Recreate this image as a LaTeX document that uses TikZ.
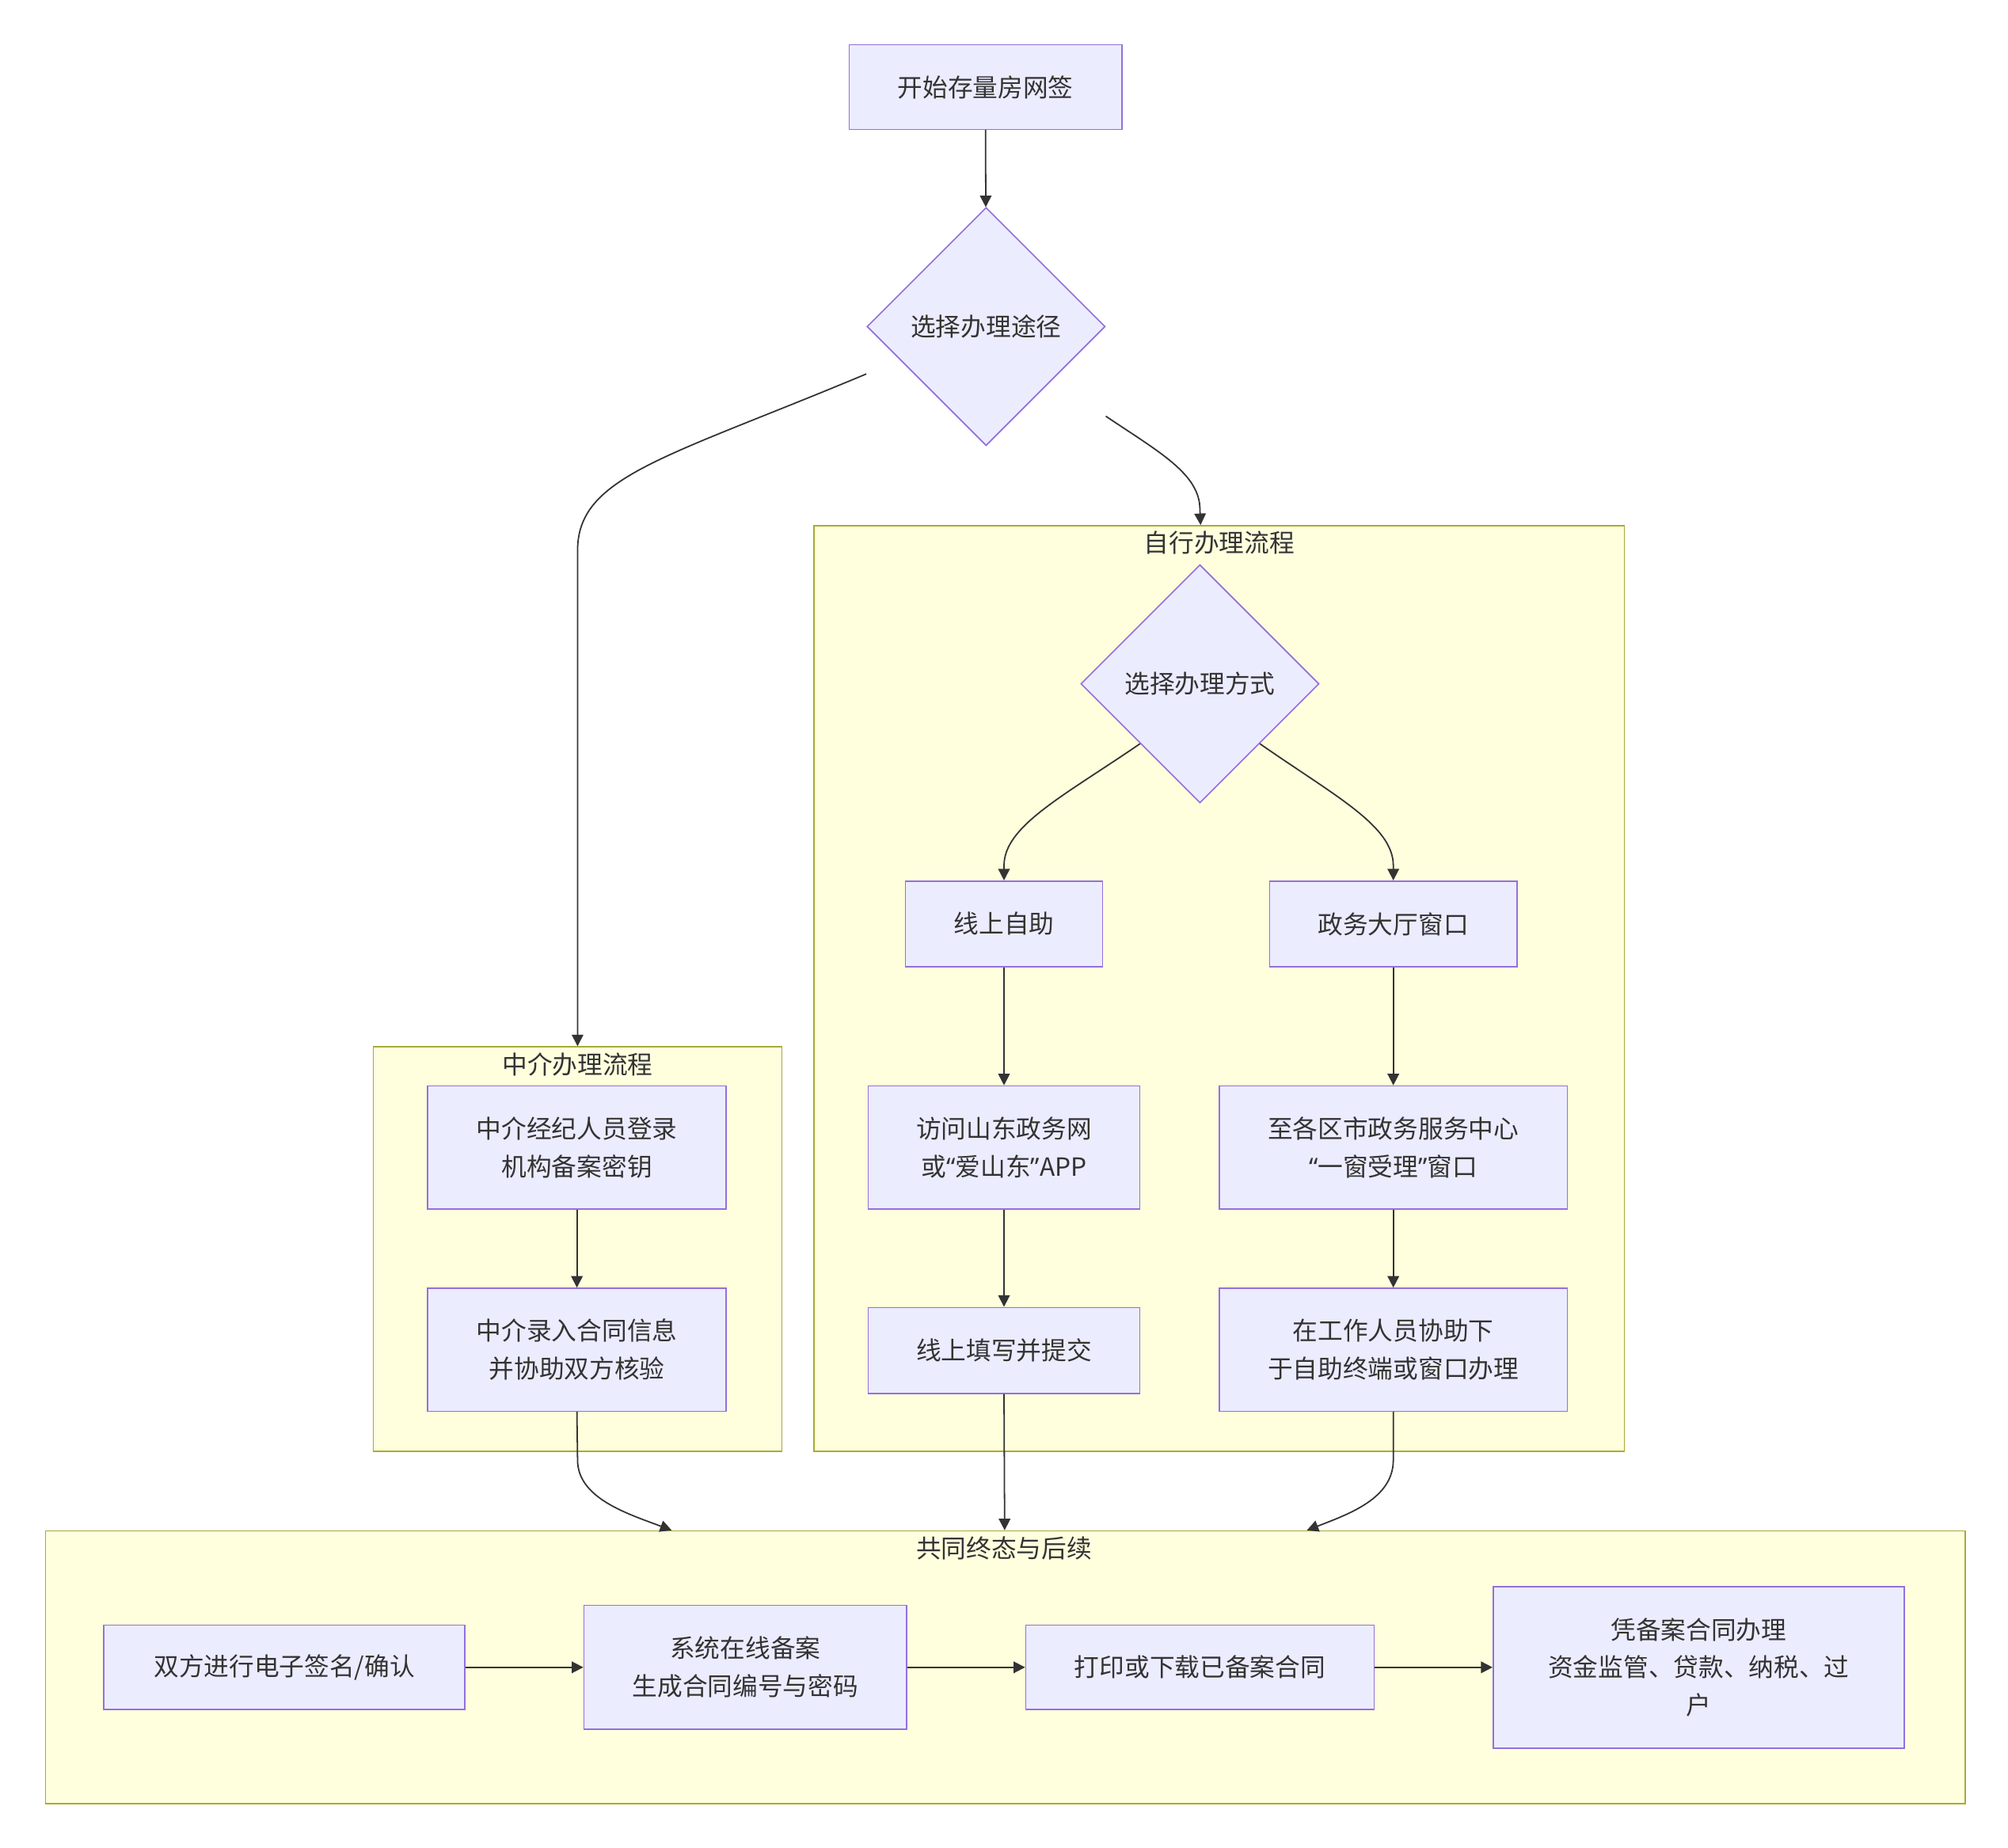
\documentclass[tikz,border=0pt]{standalone}
\usepackage{fontspec}
\setmainfont{Noto Sans CJK SC}
\newfontfamily\latinfont{Noto Sans}
\usetikzlibrary{shapes.geometric,arrows.meta}
\definecolor{nodefill}{HTML}{ECECFF}
\definecolor{nodeline}{HTML}{9370DB}
\definecolor{groupfill}{HTML}{FFFFDE}
\definecolor{groupline}{HTML}{AAAA33}
\definecolor{ink}{HTML}{333333}
\newcommand{\qopen}{{\latinfont “}}
\newcommand{\qclose}{{\latinfont ”}}

\begin{document}
\begin{tikzpicture}[x=1pt, y=-1pt,
  every node/.style={font=\fontsize{19.6}{29.5}\selectfont, text=ink},
  box/.style={draw=nodeline, fill=nodefill, line width=1pt, align=center, inner sep=0pt},
  choice/.style={diamond, draw=nodeline, fill=nodefill, line width=1pt, minimum width=186pt, minimum height=186pt, inner sep=0pt},
  group/.style={draw=groupline, fill=groupfill, line width=1pt, anchor=north west, inner sep=0pt},
  edge/.style={draw=ink, line width=1.1pt, -{Triangle[length=9pt,width=9pt]}}]
  \useasboundingbox (0,0) rectangle (1568,1443);

  % subgraphs
  \node[group, minimum width=319pt, minimum height=316pt] (agency) at (291,817) {};
  \node[group, minimum width=633pt, minimum height=723pt] (self) at (635,410) {};
  \node[group, minimum width=1499pt, minimum height=213pt] (common) at (35,1195) {};
  \node (agencytitle) at (451,831) {中介办理流程};
  \node (selftitle) at (952,424) {自行办理流程};
  \node (commontitle) at (784,1209) {共同终态与后续};

  \node[box, minimum width=213pt, minimum height=66pt] (start) at (769.5,68) {开始存量房网签};
  \node[choice] (route) at (770,255) {选择办理途径};

  % agency
  \node[box, minimum width=233pt, minimum height=96pt] (login) at (450.5,896) {中介经纪人员登录\\机构备案密钥};
  \node[box, minimum width=233pt, minimum height=96pt] (entry) at (450.5,1054) {中介录入合同信息\\并协助双方核验};

  % self service
  \node[choice] (mode) at (937,534) {选择办理方式};
  \node[box, minimum width=154pt, minimum height=67pt] (online) at (784,721.5) {线上自助};
  \node[box, minimum width=193pt, minimum height=67pt] (hall) at (1088,721.5) {政务大厅窗口};
  \node[box, minimum width=212pt, minimum height=96pt] (visit) at (784,896) {访问山东政务网\\或\qopen 爱山东\qclose APP};
  \node[box, minimum width=272pt, minimum height=96pt] (center) at (1088,896) {至各区市政务服务中心\\\qopen 一窗受理\qclose 窗口};
  \node[box, minimum width=212pt, minimum height=67pt] (submit) at (784,1054.5) {线上填写并提交};
  \node[box, minimum width=272pt, minimum height=96pt] (assist) at (1088,1054) {在工作人员协助下\\于自助终端或窗口办理};

  % common
  \node[box, minimum width=282pt, minimum height=66pt] (sign) at (222,1302) {双方进行电子签名/确认};
  \node[box, minimum width=252pt, minimum height=97pt] (record) at (582,1302) {系统在线备案\\生成合同编号与密码};
  \node[box, minimum width=272pt, minimum height=66pt] (print) at (937,1302) {打印或下载已备案合同};
  \node[box, minimum width=321pt, minimum height=126pt] (later) at (1326.5,1302) {凭备案合同办理\\资金监管、贷款、纳税、过\\户};

  \draw[edge] (start) -- (route);
  \draw[edge] ([yshift=-37pt]route.west) .. controls (519,358) and (451,372) .. (451,430) -- (agency.north);
  \draw[edge] ([yshift=-70pt]route.east) .. controls (905,353) and (937,370) .. (937,398) -- ([xshift=-14.5pt]self.north);
  \draw[edge] (login) -- (entry);
  \draw[edge] (mode.south west) .. controls (830,622) and (784,645) .. (784,676) -- (online.north);
  \draw[edge] (mode.south east) .. controls (1043,622) and (1088,645) .. (1088,676) -- (hall.north);
  \draw[edge] (online) -- (visit);
  \draw[edge] (hall) -- (center);
  \draw[edge] (visit) -- (submit);
  \draw[edge] (center) -- (assist);
  \draw[edge] (entry.south) -- (451,1140) .. controls (451,1170) and (490,1182) .. ([xshift=-260.5pt]common.north);
  \draw[edge] (submit.south) -- ([xshift=-0.5pt]common.north);
  \draw[edge] (assist.south) -- (1088,1140) .. controls (1088,1170) and (1054,1182) .. ([xshift=235.5pt]common.north);
  \draw[edge] (sign) -- (record);
  \draw[edge] (record) -- (print);
  \draw[edge] (print) -- (later);
\end{tikzpicture}
\end{document}
